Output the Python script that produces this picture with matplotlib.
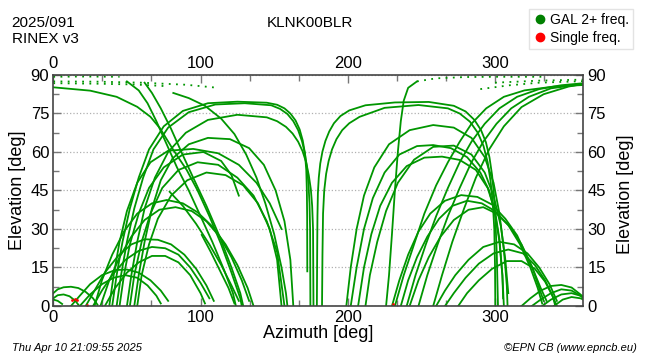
import matplotlib
matplotlib.use('Agg')
import matplotlib.pyplot as plt
from matplotlib.ticker import MultipleLocator
from matplotlib.lines import Line2D

plt.rcParams['font.family'] = ['Liberation Sans', 'DejaVu Sans']

station = 'KLNK00BLR'
doy_text = '2025/091'
rinex_text = 'RINEX v3'
date_text = 'Thu Apr 10 21:09:55 2025'
credit_text = '\u00a9EPN CB (www.epncb.eu)'
legend_labels = ['GAL 2+ freq.', 'Single freq.']

# satellite tracks, (azimuth, elevation) waypoints
east_tracks = [
    [(40,0),(43,12),(47,25),(52,38),(58,50),(65,61),(75,70),(88,76),(105,79),(125,79.6),(145,79.2),(152,78.4),(157,77),(161,75),(164.5,72.3),(167.3,68.8),(169.4,64.5),(170.9,59.5),(171.8,53),(172.2,45),(172.4,35),(172.5,13.5)],
    [(43,0),(46,12),(50,25),(55,38),(61,50),(68,61),(78,69.5),(92,75.5),(110,78.5),(130,79),(148,78.2),(154,76.8),(159,74.8),(163,72),(166.3,68.5),(168.9,64.2),(170.9,59.4),(172.3,54),(173.3,47.5),(174,40),(174.4,30),(174.6,0)],
    [(50,0),(53,12),(57,25),(62,38),(69,50),(78,60),(90,67.5),(105,72.5),(125,74.5),(145,73.5),(152,72),(158,69.8),(162.5,67.2),(166.3,64),(169.3,60.3),(171.7,56),(173.5,51),(174.9,45.5),(175.8,39),(176.4,30),(176.7,0)],
    [(55,0),(58,12),(62,25),(67,38),(73,49),(81,57.5),(92,63),(105,65.5),(120,65),(133,61.5),(143,55),(151,45),(157,33),(161,18),(163,0)],
    [(38,0),(41,12),(45,25),(50,37),(57,48),(66,56),(78,60.5),(95,61.2),(112,59.5),(126,55),(138,48),(147,40),(155,30)],
    [(45,0),(48,12),(52,24),(58,36),(65,46),(75,54),(88,59),(102,60),(114,56.5),(121,51),(126,43)],
    [(52,0),(55,12),(60,25),(66,36),(74,46),(85,53),(98,56),(112,55),(125,50),(136,43),(145,33),(152,21),(157,0)],
    [(57,0),(60,12),(65,24),(71,34),(80,43),(91,49),(104,52),(117,51),(129,47),(139,40),(147,30),(152,18),(155,0)],
    [(28,0),(33,10),(40,20),(48,29),(57,36),(67,40),(77,41.3),(88,40),(98,36.5),(108,31),(117,24),(125,16),(132,7),(136,0)],
    [(32,0),(38,10),(45,19),(53,27),(62,33.5),(72,37.5),(83,38.5),(94,37),(104,33),(113,27),(121,19),(128,10),(133,2)],
    [(22,0),(28,6),(35,13),(44,19.5),(53,24),(62,26),(71,25.8),(80,24),(89,20),(97,14.5),(104,8),(109,2)],
    [(27,0),(33,6),(40,12),(49,18),(58,21.5),(67,23),(76,22.5),(85,20),(93,15),(100,9),(106,3)],
    [(35,0),(42,7),(50,13),(58,17),(67,19.5),(76,19.5),(85,17),(93,12),(100,5),(103,1)],
    [(12,0),(18,4),(25,8.5),(33,12),(42,14),(50,14.2),(58,13),(66,10),(73,6),(78,2)],
    [(18,0),(25,4.5),(33,8.5),(41,11),(49,12),(57,11),(64,8),(70,4),(73,1)],
    [(0,5),(3,6.5),(7,7.3),(12,7.5),(17,7),(22,5.5),(27,3),(30,0.5)],
    [(0,3),(3,4.2),(7,4.5),(11,3.8),(15,2),(17,0.5)],
    [(0,2.5),(3,2),(6,0.8)],
    [(0,85.2),(25,83.9),(43,81.5),(57,77.6),(66,73.7),(72.5,69.2),(81.5,60.8),(90.6,53),(98,45),(106,35),(114,24),(121,13),(127,3),(128,0)],
    [(50,87.5),(58,84),(64,79),(70,72),(77,63),(84,54),(92,45),(100,35),(108,25),(116,14),(122,5),(124,0)],
    [(62,87),(67,83),(73,77),(80,69),(87,60),(95,50),(104,39),(113,27),(121,15),(127,5),(129,0)],
    [(81.5,83),(92,81),(103,78),(114,73),(123,67),(131,59),(138,50),(144,40),(150,28),(155,15),(158,5),(159,0)],
    [(100.8,27.7),(107,21),(113,14),(119,7),(123,1)],
    [(79,44.5),(88,39),(97,32),(106,24),(114,16),(121,8),(126,2)],
]

west_tracks = [
    [(179,0),(179.2,20),(179.4,35),(179.7,44),(180.3,50),(181.3,55.5),(182.8,60.2),(184.8,64.3),(187.4,68),(190.6,71.2),(195,74),(201,76.2),(212,78.2),(232,79.3),(255,79.5),(272,78),(280,75.8),(286,72.5),(290.5,68.5),(293.8,63.8),(296.2,58),(298,51),(299.3,43),(300.3,33),(301.2,20),(302,0)],
    [(182.5,0),(182.8,20),(183.2,36),(184,45),(185.3,51.5),(187,56.5),(189.3,61),(192.3,65),(196.2,68.5),(201,71.2),(208,73.7),(225,77.2),(248,78.3),(268,77),(276,75),(283,71.8),(288.3,67.5),(292.2,62.3),(295,56),(297,48.5),(298.5,40),(299.5,30),(300,15),(300.2,0)],
    [(226,0),(228,12),(230,28),(232,45),(234,60),(236,72),(238,80),(241,85),(247,87.5)],
    [(232,0),(238,12),(245,24),(252,36),(260,47),(268,56),(276,64),(284,71),(294,77),(306,81.5),(320,84),(340,85.5),(360,86.1)],
    [(240,0),(246,12),(253,24),(260,35),(268,46),(276,56),(284,64),(293,71),(303,77),(315,81.5),(330,84.5),(345,86),(360,86.8)],
    [(248,0),(254,12),(261,24),(268,35),(276,46),(284,56),(292,64),(301,71),(311,77),(323,81.5),(338,84.8),(360,86.5)],
    [(258,0),(264,12),(271,25),(279,38),(287,50),(296,61),(306,70),(318,77.5),(333,82.5),(350,85.5),(360,86.5)],
    [(202,0),(206,15),(211,30),(217,42),(225,52),(235,59),(247,62.3),(258,62.7),(270,61.5),(281,58),(290,52),(296,45),(300,36),(303,25),(305,12),(306,0)],
    [(207,0),(211,15),(216,28),(222,39),(230,48),(240,54.5),(252,57.8),(264,58.2),(276,56.9),(287,53),(295,46),(300,37),(303,26),(305,12),(305.5,3)],
    [(199,0),(202,15),(206,30),(211,43),(218,54),(228,63),(242,68.5),(258,70.5),(272,69.5),(284,65.5),(293,58),(299,48),(303,36),(306,22),(308,8),(308.5,0)],
    [(212,0),(215,12),(220,25),(226,37),(234,48),(245,57),(258,62),(272,62.5),(284,59),(293,52),(299,43),(304,31),(307,18),(309,5)],
    [(230,0),(235,10),(241,20),(248,29),(256,36),(266,41),(277,43.2),(288,42.5),(298,39.5),(307,34),(315,27.5),(321,20),(326,14),(331,7),(335,2)],
    [(236,0),(241,10),(247,19),(254,27),(262,34),(271,39),(281,41),(291,40),(300,37),(309,31.5),(317,24),(324,15),(329,7),(332,1)],
    [(242,0),(248,10),(255,19),(263,27),(272,33.5),(282,37.5),(292,38.5),(301,36),(310,31),(318,24),(325,15.5),(330,7),(333,2)],
    [(260,0),(266,6),(273,12),(282,18),(292,23),(303,25),(313,24),(322,20.5),(330,15),(337,8.5),(342,2)],
    [(266,0),(272,5),(280,11),(289,16.5),(299,20.5),(309,22),(319,20.5),(327,16),(334,10),(339,4),(342,0)],
    [(275,0),(281,5),(289,10),(298,14.5),(308,17.5),(318,17.5),(327,14.5),(334,9.5),(339,4),(341,0)],
    [(318,0),(324,3),(331,6),(338,7.8),(345,8.2),(352,7.2),(358,4.5),(360,3.5)],
    [(325,0),(331,2.5),(338,5),(345,6.5),(352,6),(358,4),(360,3)],
    [(332,0),(338,2.5),(345,4.5),(352,5),(358,4),(360,3.6)],
    [(340,0),(346,2.5),(352,3.5),(358,3),(360,2.5)],
]

# near-zenith passes, drawn with sparse points
dotted_tracks = [
    [(0,89.3),(20,89.4),(45,89.3)],
    [(0,87.5),(30,87.4),(60,87),(90,86.2),(112,85)],
    [(0,86.8),(30,86.6),(55,86.3),(75,85.7)],
    [(247,87.5),(260,88.7),(280,89.2),(300,89.3),(320,89.3),(335,89.3)],
    [(290,84.5),(310,86),(330,87),(360,87.6)],
    [(300,87),(330,87.8),(360,88.2)],
]

single_az = [13, 14.5, 16, 23, 231]
single_el = [2.2, 2.9, 2.4, 0.3, 0.7]

green = '#009600'
red = '#ff0000'

fig = plt.figure(figsize=(6.5, 3.6), dpi=100)
ax = fig.add_axes([0.082, 0.15, 0.8155, 0.6417])

for tr in east_tracks + west_tracks:
    az = [p[0] for p in tr]
    el = [p[1] for p in tr]
    ax.plot(az, el, color=green, lw=1.3, solid_joinstyle='round')
for tr in dotted_tracks:
    az = [p[0] for p in tr]
    el = [p[1] for p in tr]
    ax.plot(az, el, color=green, lw=1.3, linestyle=(0, (1, 3)))
ax.plot(single_az, single_el, 'o', color=red, markersize=2, markeredgewidth=0)

ax.set_xlim(0, 360)
ax.set_ylim(0, 90)
ax.xaxis.set_major_locator(MultipleLocator(100))
ax.xaxis.set_minor_locator(MultipleLocator(100 / 3))
ax.yaxis.set_major_locator(MultipleLocator(15))
ax.yaxis.set_minor_locator(MultipleLocator(7.5))
ax.tick_params(which='both', direction='in', top=True, right=True,
               labeltop=True, labelright=True, labelsize=12,
               color='#777777', pad=3)
ax.tick_params(which='major', length=6, width=1)
ax.tick_params(which='minor', length=4, width=1)
ax.grid(axis='y', which='major', color='#b0b0b0', linestyle=':', lw=0.9)
for s in ax.spines.values():
    s.set_color('#444444')
    s.set_linewidth(1.2)

ax.set_xlabel('Azimuth [deg]', fontsize=13, labelpad=0)
ax.set_ylabel('Elevation [deg]', fontsize=13, labelpad=3)
fig.text(0.962, 0.46, 'Elevation [deg]', fontsize=13, rotation=90, ha='center', va='center')

fig.text(0.018, 0.925, doy_text, fontsize=11)
fig.text(0.018, 0.88, rinex_text, fontsize=11)
fig.text(0.477, 0.925, station, fontsize=11, ha='center')
fig.text(0.018, 0.025, date_text, fontsize=8, style='italic')
fig.text(0.98, 0.025, credit_text, fontsize=8, style='italic', ha='right')

handles = [Line2D([], [], marker='o', linestyle='', color='#008000', markersize=6),
           Line2D([], [], marker='o', linestyle='', color=red, markersize=6)]
fig.legend(handles, legend_labels, loc='upper right', bbox_to_anchor=(0.985, 0.995),
           fontsize=10, frameon=True, fancybox=False, edgecolor='#dddddd',
           handletextpad=0.2, borderpad=0.3, labelspacing=0.3, handlelength=1.0)

fig.savefig('out.png', dpi=100)
